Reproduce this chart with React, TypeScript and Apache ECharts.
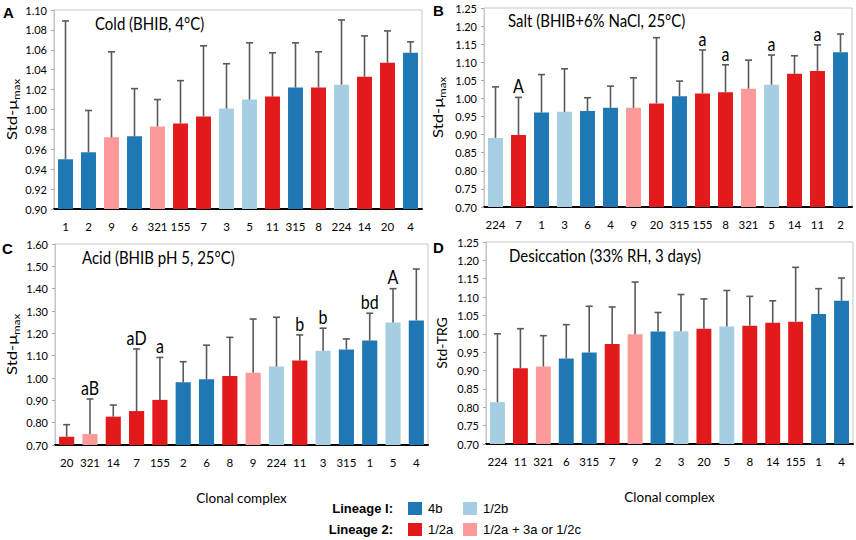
import React, { useEffect, useRef } from "react";
import * as echarts from "echarts";

// ---- data ----
const catsA = ["1", "2", "9", "6", "321", "155", "7", "3", "5", "11", "315", "8", "224", "14", "20", "4"];
const meanA = [0.950, 0.957, 0.972, 0.973, 0.983, 0.986, 0.993, 1.001, 1.010, 1.013, 1.022, 1.022, 1.025, 1.033, 1.047, 1.057];
const errA = [1.089, 0.999, 1.058, 1.021, 1.010, 1.029, 1.064, 1.046, 1.067, 1.057, 1.067, 1.058, 1.090, 1.074, 1.079, 1.068];
const letA = ["", "", "", "", "", "", "", "", "", "", "", "", "", "", "", ""];

const catsB = ["224", "7", "1", "3", "6", "4", "9", "20", "315", "155", "8", "321", "5", "14", "11", "2"];
const meanB = [0.891, 0.899, 0.961, 0.963, 0.965, 0.974, 0.974, 0.986, 1.006, 1.014, 1.017, 1.027, 1.038, 1.068, 1.076, 1.128];
const errB = [1.032, 1.003, 1.066, 1.082, 1.002, 1.034, 1.057, 1.168, 1.048, 1.134, 1.093, 1.106, 1.120, 1.118, 1.148, 1.178];
const letB = ["", "A", "", "", "", "", "", "", "", "a", "a", "", "a", "", "a", ""];

const catsC = ["20", "321", "14", "7", "155", "2", "6", "8", "9", "224", "11", "3", "315", "1", "5", "4"];
const meanC = [0.737, 0.749, 0.827, 0.852, 0.902, 0.981, 0.994, 1.009, 1.024, 1.051, 1.078, 1.122, 1.128, 1.168, 1.249, 1.258];
const errC = [0.791, 0.906, 0.879, 1.130, 1.092, 1.073, 1.147, 1.182, 1.264, 1.272, 1.193, 1.223, 1.175, 1.290, 1.400, 1.488];
const letC = ["", "aB", "", "aD", "a", "", "", "", "", "", "b", "b", "", "bd", "A", ""];

const catsD = ["224", "11", "321", "6", "315", "7", "9", "2", "3", "20", "5", "8", "14", "155", "1", "4"];
const meanD = [0.814, 0.906, 0.911, 0.933, 0.949, 0.972, 0.999, 1.006, 1.007, 1.014, 1.020, 1.022, 1.030, 1.033, 1.054, 1.090];
const errD = [1.000, 1.014, 0.995, 1.025, 1.075, 1.073, 1.141, 1.058, 1.107, 1.095, 1.118, 1.102, 1.090, 1.181, 1.123, 1.152];
const letD = ["", "", "", "", "", "", "", "", "", "", "", "", "", "", "", ""];

// clonal complex -> lineage group
const lineageGroup: Record<string, string> = {
  "1": "4b", "2": "4b", "4": "4b", "6": "4b", "315": "4b",
  "3": "1/2b", "5": "1/2b", "224": "1/2b",
  "7": "1/2a", "8": "1/2a", "11": "1/2a", "14": "1/2a", "20": "1/2a", "155": "1/2a",
  "9": "1/2a + 3a or 1/2c", "321": "1/2a + 3a or 1/2c",
};

const groupColor: Record<string, string> = {
  "4b": "#1F78B4",
  "1/2b": "#A6CEE3",
  "1/2a": "#E31A1C",
  "1/2a + 3a or 1/2c": "#FB9A99",
};

const FONT = "Lato, 'Noto Sans', sans-serif";
const BOLD = "'Liberation Sans', Arial, sans-serif";

type Panel = {
  cats: string[]; mean: number[]; err: number[]; lets: string[];
  min: number; max: number; interval: number;
  grid: { left: number; top: number; width: number; height: number };
  yName: string; yNameX: number; yNameScale: number; xName: string;
  title: string; titleX: number; titleY: number;
  letter: string; letterX: number; letterY: number;
};

const panels: Panel[] = [
  { cats: catsA, mean: meanA, err: errA, lets: letA, min: 0.9, max: 1.1, interval: 0.02,
    grid: { left: 54, top: 10, width: 368, height: 199 },
    yName: "{a|Std-μ}{b|max}", yNameX: 12, yNameScale: 1.2, xName: "",
    title: "Cold (BHIB, 4°C)", titleX: 95, titleY: 23,
    letter: "A", letterX: 3, letterY: 12 },
  { cats: catsB, mean: meanB, err: errB, lets: letB, min: 0.7, max: 1.25, interval: 0.05,
    grid: { left: 484, top: 8, width: 368, height: 199 },
    yName: "{a|Std-μ}{b|max}", yNameX: 438, yNameScale: 1.2, xName: "",
    title: "Salt (BHIB+6% NaCl, 25°C)", titleX: 508, titleY: 20,
    letter: "B", letterX: 433, letterY: 10 },
  { cats: catsC, mean: meanC, err: errC, lets: letC, min: 0.7, max: 1.6, interval: 0.1,
    grid: { left: 55, top: 244, width: 373, height: 201 },
    yName: "{a|Std-μ}{b|max}", yNameX: 12, yNameScale: 1.2, xName: "Clonal complex",
    title: "Acid (BHIB pH 5, 25°C)", titleX: 82, titleY: 257,
    letter: "C", letterX: 2, letterY: 248 },
  { cats: catsD, mean: meanD, err: errD, lets: letD, min: 0.7, max: 1.25, interval: 0.05,
    grid: { left: 486, top: 242, width: 367, height: 202 },
    yName: "{a|Std-TRG}", yNameX: 441, yNameScale: 1.0, xName: "Clonal complex",
    title: "Desiccation (33% RH, 3 days)", titleX: 509, titleY: 255,
    letter: "D", letterX: 433, letterY: 247 },
];

export default function App() {
  const ref = useRef<HTMLDivElement>(null);
  useEffect(() => {
    if (!ref.current) return;
    const chart = echarts.init(ref.current, undefined, { renderer: "svg" });

    const grids: any[] = [];
    const xAxes: any[] = [];
    const yAxes: any[] = [];
    const series: any[] = [];
    const graphics: any[] = [];

    panels.forEach((p, k) => {
      grids.push({ ...p.grid, show: true, borderColor: "#c6c6c6", borderWidth: 1, backgroundColor: "transparent" });
      xAxes.push({
        type: "category", gridIndex: k, data: p.cats,
        axisLine: { show: true, lineStyle: { color: "#000", width: 2 } },
        axisTick: { show: false },
        axisLabel: { color: "#000", fontSize: 11.5, fontFamily: FONT, margin: 11, interval: 0 },
        name: p.xName, nameLocation: "middle", nameGap: 46,
        nameTextStyle: { color: "#000", fontSize: 13.5, fontFamily: FONT },
      });
      yAxes.push({
        type: "value", gridIndex: k, min: p.min, max: p.max, interval: p.interval,
        axisLine: { show: true, lineStyle: { color: "#c6c6c6", width: 1 } },
        axisTick: { show: true, inside: false, length: 3, lineStyle: { color: "#a6a6a6" } },
        splitLine: { show: false },
        axisLabel: { color: "#000", fontSize: 11, fontFamily: FONT, margin: 7,
          formatter: (v: number) => v.toFixed(2) },
      });
      series.push({
        type: "bar", xAxisIndex: k, yAxisIndex: k, barCategoryGap: "35%",
        data: p.mean.map((v, i) => ({ value: v, itemStyle: { color: groupColor[lineageGroup[p.cats[i]]] } })),
        z: 2,
      });
      const lets = p.lets;
      series.push({
        type: "custom", xAxisIndex: k, yAxisIndex: k, z: 3,
        data: p.mean.map((v, i) => [i, v, p.err[i]]),
        renderItem: (params: any, api: any) => {
          const i = api.value(0);
          const v = api.value(1);
          const t = api.value(2);
          const p0 = api.coord([i, v]);
          const p1 = api.coord([i, t]);
          const lineStyle = { stroke: "#595959", lineWidth: 1.6 };
          const children: any[] = [
            { type: "line", shape: { x1: p0[0], y1: p0[1], x2: p1[0], y2: p1[1] }, style: lineStyle },
            { type: "line", shape: { x1: p1[0] - 3.5, y1: p1[1], x2: p1[0] + 3.5, y2: p1[1] }, style: lineStyle },
          ];
          const txt = lets[params.dataIndex];
          if (txt) {
            children.push({
              type: "text", x: p1[0], y: p1[1] - 2, scaleY: 1.15,
              style: { text: txt, fill: "#000", font: `16px ${FONT}`, align: "center", verticalAlign: "bottom" },
            });
          }
          return { type: "group", children };
        },
      });
      // panel title
      graphics.push({
        type: "text", x: p.titleX, y: p.titleY, scaleY: 1.2,
        style: { text: p.title, fill: "#000", font: `15px ${FONT}`, align: "left", verticalAlign: "middle" },
      });
      // panel letter
      graphics.push({
        type: "text", x: p.letterX, y: p.letterY,
        style: { text: p.letter, fill: "#000", font: `bold 15px ${BOLD}`, align: "left", verticalAlign: "middle" },
      });
      // y-axis name
      graphics.push({
        type: "text", x: p.yNameX, y: p.grid.top + p.grid.height / 2, rotation: Math.PI / 2, scaleX: p.yNameScale,
        style: {
          text: p.yName, fill: "#000", align: "center", verticalAlign: "middle", font: `14px ${FONT}`,
          rich: {
            a: { fontSize: 14, fontFamily: FONT, fill: "#000", lineHeight: 18, verticalAlign: "middle" },
            b: { fontSize: 9.5, fontFamily: FONT, fill: "#000", lineHeight: 9, verticalAlign: "bottom" },
          },
        },
      });
    });

    // legend
    const legendRows = [
      { label: "Lineage I:", y: 508, items: ["4b", "1/2b"] },
      { label: "Lineage 2:", y: 529, items: ["1/2a", "1/2a + 3a or 1/2c"] },
    ];
    const itemX = [408, 463];
    legendRows.forEach((row) => {
      graphics.push({
        type: "text", x: 393, y: row.y,
        style: { text: row.label, fill: "#000", font: `bold 13px ${BOLD}`, align: "right", verticalAlign: "middle" },
      });
      row.items.forEach((g, j) => {
        graphics.push({
          type: "rect", shape: { x: itemX[j], y: row.y - 6, width: 14, height: 13 },
          style: { fill: groupColor[g] },
        });
        graphics.push({
          type: "text", x: itemX[j] + 20, y: row.y,
          style: { text: g, fill: "#000", font: `13px ${BOLD}`, align: "left", verticalAlign: "middle" },
        });
      });
    });

    chart.setOption({
      animation: false,
      backgroundColor: "#fff",
      grid: grids,
      xAxis: xAxes,
      yAxis: yAxes,
      series,
      graphic: graphics,
    });
    return () => chart.dispose();
  }, []);
  return <div ref={ref} style={{ position: "fixed", left: 0, top: 0, width: 856, height: 540 }} />;
}
